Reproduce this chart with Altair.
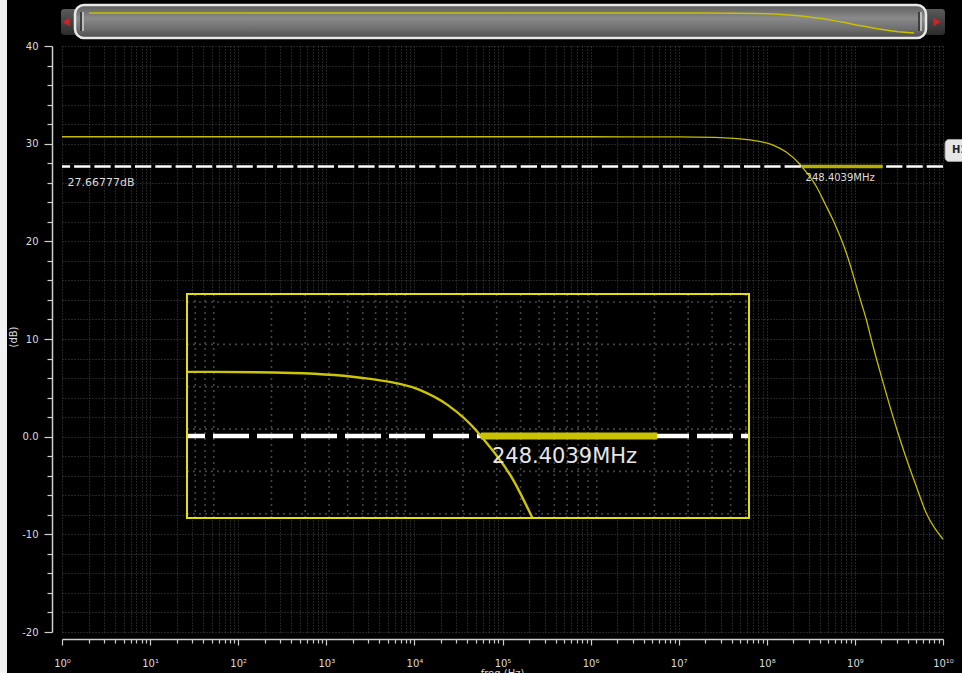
import json
import altair as alt
import pandas as pd

# ---------------------------------------------------------------
# Gain (dB) vs frequency (Hz), read at selected frequencies
# ---------------------------------------------------------------
freq_hz = [1e0, 1e1, 1e2, 1e3, 1e4, 1e5, 1e6, 7.244e6, 1e7, 2.570e7, 6.412e7,
           1.180e8, 1.675e8, 2.371e8, 2.484039e8, 3.664e8, 4.613e8, 5.649e8,
           8.017e8, 1.156e9, 1.352e9, 1.542e9, 2.000e9, 2.377e9, 3.090e9,
           3.776e9, 4.989e9, 6.471e9, 1e10]
gain_db = [30.71, 30.71, 30.71, 30.71, 30.71, 30.71, 30.71, 30.70, 30.70, 30.65, 30.38,
           29.86, 29.12, 27.89, 27.66777, 25.59, 23.80, 22.18,
           18.78, 13.99, 11.95, 9.90, 6.14, 3.76, 0.35,
           -2.05, -5.12, -7.85, -10.50]

# horizontal marker and its crossing
marker_db = 27.66777
marker_hz = 248.4039e6
highlight_end_hz = 2.07e9

x_tick_labels = ["10⁰", "10¹", "10²", "10³", "10⁴", "10⁵",
                 "10⁶", "10⁷", "10⁸", "10⁹", "10¹⁰"]
y_major = [-20, -10, 0, 10, 20, 30, 40]
y_tick_labels = ["-20", "-10", "0.0", "10", "20", "30", "40"]

# region magnified in the inset
zoom_hz = [7.244e6, 6.237e9]
zoom_db = [23.80, 34.38]

W, H = 881, 586
YEL = "#c4bd00"
FG = "#dcdcdc"
FONT = "DejaVu Sans"

df = pd.DataFrame({"freq": freq_hz, "gain": gain_db})
mk = pd.DataFrame({
    "f": [marker_hz], "f2": [highlight_end_hz], "db": [marker_db], "lo": [1.0],
    "db_txt": [f"{marker_db:.5f}dB"], "f_txt": [f"{marker_hz / 1e6:.4f}MHz"],
    "tag": ["H1"],
})
one = pd.DataFrame({"k": [0]})

# ---------------- main axes ----------------
x_ticks = [m * 10 ** k for k in range(10) for m in range(1, 10)] + [10 ** 10]
is_decade = "abs(datum.value / pow(10, round(log(datum.value) / LN10)) - 1) < 1e-6"
x_label_expr = (f"{is_decade} ? {json.dumps(x_tick_labels, ensure_ascii=False)}"
                f"[round(log(datum.value) / LN10)] : ''")
y_label_expr = (f"indexof({json.dumps(y_major)}, datum.value) >= 0 ? "
                f"{json.dumps(y_tick_labels)}[indexof({json.dumps(y_major)}, datum.value)] : ''")

grid_style = dict(grid=True, gridColor="#474747", gridDash=[1, 2], gridWidth=1,
                  domainColor="#cfcfcf", domainWidth=1.5, tickColor="#cfcfcf",
                  tickWidth=1.2, labelColor=FG, labelFont=FONT, labelFontSize=10,
                  labelOverlap=False, labelFlush=False, title=None)

x_axis = alt.Axis(values=x_ticks, labelExpr=x_label_expr, offset=7,
                  tickSize={"condition": {"test": is_decade, "value": 6}, "value": 4},
                  labelPadding=13, **grid_style)
y_axis = alt.Axis(values=list(range(-20, 41, 2)), labelExpr=y_label_expr, offset=10,
                  tickSize={"condition": {"test": "datum.value % 10 == 0", "value": 8}, "value": 5},
                  labelPadding=6, **grid_style)

xs = alt.Scale(type="log", domain=[1, 1e10], nice=False)
ys = alt.Scale(domain=[-20, 40], nice=False, zero=False)

MX = lambda f: alt.X(f, scale=xs, axis=x_axis)
MY = lambda f: alt.Y(f, scale=ys, axis=y_axis)

curve = alt.Chart(df).mark_line(color=YEL, strokeWidth=1.3, interpolate="monotone").encode(
    x=MX("freq:Q"), y=MY("gain:Q"),
)
dashed = alt.Chart(mk).mark_rule(color="white", strokeWidth=2.5, strokeDash=[16.3, 4]).encode(
    y=MY("db:Q"),
)
highlight = alt.Chart(mk).mark_rule(color="#b4b000", strokeWidth=3.5).encode(
    x=MX("f:Q"), x2="f2:Q", y=MY("db:Q"),
)
db_label = alt.Chart(mk).mark_text(align="left", baseline="middle", dx=5.5, dy=16.5,
                                   color=FG, font=FONT, fontSize=11).encode(
    x=MX("lo:Q"), y=MY("db:Q"), text="db_txt:N",
)
f_label = alt.Chart(mk).mark_text(align="left", baseline="middle", dx=4, dy=11.5,
                                  color=FG, font=FONT, fontSize=10).encode(
    x=MX("f:Q"), y=MY("db:Q"), text="f_txt:N",
)
tag_box = alt.Chart(mk).mark_rect(fill="#e6e6e6", stroke="#a0a0a0", strokeWidth=1,
                                  cornerRadius=4, yOffset=-27, y2Offset=-5).encode(
    x=alt.value(883), x2=alt.value(925),
    y=MY("db:Q"), y2="db:Q",
)
tag_text = alt.Chart(mk).mark_text(align="left", baseline="middle", dx=0, dy=-16,
                                   color="#222222", font=FONT, fontSize=10, fontWeight="bold").encode(
    x=alt.value(890), y=MY("db:Q"), text="tag:N",
)
y_title = alt.Chart(one).mark_text(angle=270, align="center", baseline="middle",
                                   color=FG, font=FONT, fontSize=10, text="(dB)").encode(
    x=alt.value(-48), y=alt.value(291),
)
x_title = alt.Chart(one).mark_text(align="center", baseline="top",
                                   color=FG, font=FONT, fontSize=10, text="freq (Hz)").encode(
    x=alt.value(W / 2), y=alt.value(623),
)
edge = alt.Chart(one).mark_rect(fill="#f2f2f2").encode(
    x=alt.value(-62), x2=alt.value(-55), y=alt.value(-46), y2=alt.value(H + 41),
)

main = alt.layer(curve, dashed, highlight, db_label, f_label, tag_box, tag_text,
                 y_title, x_title, edge)

# ---------------- magnified inset ----------------
ixs = alt.Scale(type="log", domain=zoom_hz, range=[125, 687], nice=False)
iys = alt.Scale(domain=zoom_db, range=[472, 248], nice=False, zero=False)

box = pd.DataFrame({"f0": [zoom_hz[0]], "f1": [zoom_hz[1]], "d0": [zoom_db[0]], "d1": [zoom_db[1]]})
vgrid = pd.DataFrame({"g": [m * 10 ** k for k in range(6, 10) for m in range(1, 10)
                            if zoom_hz[0] < m * 10 ** k < zoom_hz[1]]})
vgrid["d0"], vgrid["d1"] = zoom_db
hgrid = pd.DataFrame({"g": list(range(24, 35, 2))})
hgrid["f0"], hgrid["f1"] = zoom_hz
ins_mk = mk.assign(f0=zoom_hz[0], f1=zoom_hz[1])

IX = lambda f: alt.X(f, scale=ixs, axis=None)
IY = lambda f: alt.Y(f, scale=iys, axis=None)

in_bg = alt.Chart(box).mark_rect(fill="black").encode(
    x=IX("f0:Q"), x2="f1:Q", y=IY("d0:Q"), y2="d1:Q")
in_vgrid = alt.Chart(vgrid).mark_rule(color="#444444", strokeDash=[2, 4], strokeWidth=1.6).encode(
    x=IX("g:Q"), y=IY("d0:Q"), y2="d1:Q")
in_hgrid = alt.Chart(hgrid).mark_rule(color="#444444", strokeDash=[2, 4], strokeWidth=1.6).encode(
    x=IX("f0:Q"), x2="f1:Q", y=IY("g:Q"))
in_dash = alt.Chart(ins_mk).mark_rule(color="white", strokeWidth=4.5, strokeDash=[36, 8],
                                       strokeDashOffset=18).encode(
    x=IX("f0:Q"), x2="f1:Q", y=IY("db:Q"))
in_curve = alt.Chart(df).transform_filter(
    f"datum.freq >= {zoom_hz[0]} && datum.freq <= {zoom_hz[1]} && "
    f"datum.gain >= {zoom_db[0] - 1e-6} && datum.gain <= {zoom_db[1]}"
).mark_line(color="#cdc500", strokeWidth=2.4, interpolate="monotone").encode(
    x=IX("freq:Q"), y=IY("gain:Q"))
in_high = alt.Chart(ins_mk).mark_rule(color="#c8c200", strokeWidth=7).encode(
    x=IX("f:Q"), x2="f2:Q", y=IY("db:Q"))
in_label = alt.Chart(ins_mk).mark_text(align="left", baseline="middle", dx=11, dy=21,
                                       color="#e6e6e6", font=FONT, fontSize=21).encode(
    x=IX("f:Q"), y=IY("db:Q"), text="f_txt:N")
in_frame = alt.Chart(box).mark_rect(fill="black", fillOpacity=0, stroke="#e4e000", strokeWidth=2).encode(
    x=IX("f0:Q"), x2="f1:Q", y=IY("d0:Q"), y2="d1:Q")

inset = alt.layer(in_bg, in_vgrid, in_hgrid, in_dash, in_curve, in_high, in_label, in_frame)

# ---------------- overview scrollbar ----------------
sxs = alt.Scale(type="log", domain=[1, 1e10], range=[27, 852], nice=False)
sys_ = alt.Scale(domain=[min(gain_db), max(gain_db)], range=[-13, -33], nice=False, zero=False)

track = alt.Chart(one).mark_rect(
    cornerRadius=3,
    fill=alt.Gradient(gradient="linear", x1=0, x2=0, y1=0, y2=1,
                      stops=[alt.GradientStop(color="#5a5a5a", offset=0),
                             alt.GradientStop(color="#2c2c2c", offset=1)]),
).encode(x=alt.value(-1), x2=alt.value(883), y=alt.value(-37), y2=alt.value(-11))
thumb = alt.Chart(one).mark_rect(
    cornerRadius=9, stroke="#e8e8e8", strokeWidth=2.5,
    fill=alt.Gradient(gradient="linear", x1=0, x2=0, y1=0, y2=1,
                      stops=[alt.GradientStop(color="#5c5c5c", offset=0),
                             alt.GradientStop(color="#8a8a8a", offset=0.4),
                             alt.GradientStop(color="#6c6c6c", offset=0.75),
                             alt.GradientStop(color="#4c4c4c", offset=1)]),
).encode(x=alt.value(13), x2=alt.value(864), y=alt.value(-41), y2=alt.value(-8))
grips = alt.Chart(pd.DataFrame({"gx": [19, 21, 857, 859], "c": ["#2a2a2a", "#d0d0d0", "#2a2a2a", "#d0d0d0"]})
                  ).mark_rule(strokeWidth=1.5).encode(
    x=alt.X("gx:Q", scale=None), y=alt.value(-34), y2=alt.value(-15),
    color=alt.Color("c:N", scale=None))
arrow_l = alt.Chart(one).mark_point(shape="triangle-left", filled=True, size=70,
                                    color="#d42020", opacity=1).encode(
    x=alt.value(4), y=alt.value(-24))
arrow_r = alt.Chart(one).mark_point(shape="triangle-right", filled=True, size=70,
                                    color="#d42020", opacity=1).encode(
    x=alt.value(875), y=alt.value(-24))
mini = alt.Chart(df).mark_line(color="#c8c000", strokeWidth=1.5).encode(
    x=alt.X("freq:Q", scale=sxs, axis=None), y=alt.Y("gain:Q", scale=sys_, axis=None))

scroll = alt.layer(track, thumb, grips, arrow_l, arrow_r, mini)

chart = alt.layer(main, inset, scroll).resolve_scale(
    x="independent", y="independent"
).properties(
    width=W, height=H,
    autosize=alt.AutoSizeParams(type="none"),
    padding={"left": 62, "top": 46, "right": 19, "bottom": 41},
    background="#000000",
).configure_view(stroke=None)

chart.save("out.html", embed_options={"renderer": "svg", "actions": False})
